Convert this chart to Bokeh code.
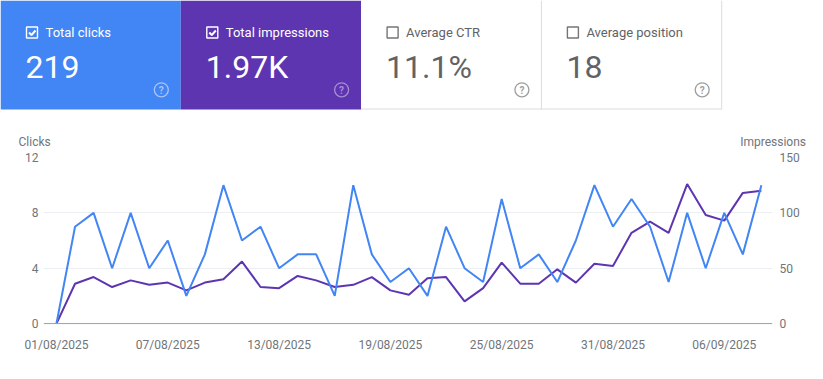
from bokeh.plotting import figure
from bokeh.models import Range1d, LinearAxis, FixedTicker, Span, ColumnDataSource
from bokeh.layouts import column
from bokeh.core.properties import value
from bokeh.embed import file_html
from bokeh.resources import INLINE

# ---------------- data ----------------
card_titles = ["Total clicks", "Total impressions", "Average CTR", "Average position"]
card_values = ["219", "1.97K", "11.1%", "18"]
card_checked = [True, True, False, False]
card_fills = ["#4285f4", "#5e35b1", "#ffffff", "#ffffff"]

dates = ["01/08/2025", "02/08/2025", "03/08/2025", "04/08/2025", "05/08/2025", "06/08/2025",
         "07/08/2025", "08/08/2025", "09/08/2025", "10/08/2025", "11/08/2025", "12/08/2025",
         "13/08/2025", "14/08/2025", "15/08/2025", "16/08/2025", "17/08/2025", "18/08/2025",
         "19/08/2025", "20/08/2025", "21/08/2025", "22/08/2025", "23/08/2025", "24/08/2025",
         "25/08/2025", "26/08/2025", "27/08/2025", "28/08/2025", "29/08/2025", "30/08/2025",
         "31/08/2025", "01/09/2025", "02/09/2025", "03/09/2025", "04/09/2025", "05/09/2025",
         "06/09/2025", "07/09/2025", "08/09/2025"]
clicks = [0, 7, 8, 4, 8, 4, 6, 2, 5, 10, 6, 7, 4, 5, 5, 2, 10, 5, 3, 4,
          2, 7, 4, 3, 9, 4, 5, 3, 6, 10, 7, 9, 7, 3, 8, 4, 8, 5, 10]
impressions = [0, 36, 42, 33, 39, 35, 37, 30, 37, 40, 56, 33, 32, 43, 39, 33, 35, 42, 30, 26,
               41, 42, 20, 32, 55, 36, 36, 49, 37, 54, 52, 82, 92, 82, 126, 98, 93, 118, 120]
tick_days = [0, 6, 12, 18, 24, 30, 36]
clicks_ticks = [0, 4, 8, 12]
impr_ticks = [0, 50, 100, 150]
axis_titles = ["Clicks", "Impressions"]

FONT = value("Roboto")
BLUE = "#4285f4"
PURPLE = "#5e35b1"
TXT = "#70757a"
W = 823

# ---------------- header: cards + axis titles ----------------
p_top = figure(width=W, height=150, x_range=Range1d(0, W), y_range=Range1d(150, 0),
               output_backend="svg", toolbar_location=None, min_border=0,
               x_axis_location=None, y_axis_location=None, outline_line_color=None,
               frame_align=False)
p_top.grid.visible = False

card_w = 180
lefts = [i * 180.3 for i in range(len(card_titles))]
rights = [l + card_w + 0.3 for l in lefts]
p_top.quad(left=lefts, right=rights, top=0, bottom=109, fill_color=card_fills, line_color=None)

white_idx = [i for i, c in enumerate(card_checked) if not c]
p_top.segment(x0=[lefts[white_idx[0]]], y0=[108.5], x1=[rights[white_idx[-1]]], y1=[108.5],
              line_color="#dadce0", line_width=1)
p_top.segment(x0=[rights[i] for i in white_idx], y0=[0] * len(white_idx),
              x1=[rights[i] for i in white_idx], y1=[109] * len(white_idx),
              line_color="#dadce0", line_width=1)

fg = ["#ffffff" if c else "#5f6368" for c in card_checked]
box_col = ["#ffffff" if c else "#757575" for c in card_checked]
help_col = ["#a9c4f9", "#a58ed6", "#9e9e9e", "#9e9e9e"]

p_top.rect(x=[l + 31.5 for l in lefts], y=[32] * 4, width=11, height=11,
           fill_color=None, line_color=box_col, line_width=1.4)
for i, c in enumerate(card_checked):
    if c:
        l = lefts[i]
        p_top.line(x=[l + 28.5, l + 31, l + 35], y=[32, 34.5, 30], line_color="#ffffff",
                   line_width=2)

src = ColumnDataSource(dict(
    tx=[l + 45 for l in lefts], vx=[l + 25 for l in lefts], hx=[l + 160.8 for l in lefts],
    title=card_titles, val=card_values, fg=fg, help=help_col, q=["?"] * 4))
p_top.text(x="tx", y=32, text="title", text_color="fg", text_font=FONT,
           text_font_size=value("13px"), text_baseline="middle", source=src)
p_top.text(x="vx", y=66, text="val", text_color="fg", text_font=FONT,
           text_font_size=value("32px"), text_baseline="middle", source=src)
p_top.scatter(x="hx", y=89.3, size=14, marker="circle", fill_color=None, line_color="help",
              line_width=1.3, source=src)
p_top.text(x="hx", y=89.5, text="q", text_color="help", text_font=FONT,
           text_font_size=value("10px"), text_font_style="bold", text_align="center",
           text_baseline="middle", source=src)

p_top.text(x=[18], y=[141], text=[axis_titles[0]], text_color=TXT, text_font=FONT,
           text_font_size=value("12px"), text_baseline="middle", text_align="left")
p_top.text(x=[805.5], y=[141], text=[axis_titles[1]], text_color=TXT, text_font=FONT,
           text_font_size=value("12px"), text_baseline="middle", text_align="right")

# ---------------- chart ----------------
days = list(range(len(dates)))
p = figure(width=W, height=229, x_range=Range1d(-0.7, 38.6), y_range=Range1d(-0.14, 12),
           output_backend="svg", toolbar_location=None,
           min_border_left=43, min_border_right=51, min_border_top=7, min_border_bottom=54,
           outline_line_color=None, frame_align=False)
p.extra_y_ranges = {"imp": Range1d(-1.75, 150)}

p.xgrid.visible = False
p.ygrid.ticker = FixedTicker(ticks=clicks_ticks[1:])
p.ygrid.grid_line_color = "#eceff1"
p.ygrid.grid_line_width = 1

ya = p.yaxis[0]
ya.ticker = FixedTicker(ticks=clicks_ticks)
ya.axis_line_color = None
ya.major_tick_line_color = None
ya.minor_tick_line_color = None
ya.major_tick_out = 0
ya.major_label_standoff = 5
ya.major_label_text_font = "Roboto"
ya.major_label_text_font_size = "12px"
ya.major_label_text_color = TXT

ra = LinearAxis(y_range_name="imp", ticker=FixedTicker(ticks=impr_ticks))
ra.axis_line_color = None
ra.major_tick_line_color = None
ra.minor_tick_line_color = None
ra.major_tick_out = 0
ra.major_label_standoff = 7
ra.major_label_text_font = "Roboto"
ra.major_label_text_font_size = "12px"
ra.major_label_text_color = TXT
p.add_layout(ra, "right")

xa = p.xaxis[0]
xa.ticker = FixedTicker(ticks=tick_days)
xa.major_label_overrides = {d: dates[d] for d in tick_days}
xa.axis_line_color = None
xa.major_tick_line_color = None
xa.minor_tick_line_color = None
xa.major_tick_out = 0
xa.major_label_standoff = 12
xa.major_label_text_font = "Roboto"
xa.major_label_text_font_size = "12px"
xa.major_label_text_color = TXT

p.add_layout(Span(location=0, dimension="width", line_color="#9aa0a6", line_width=1))

p.line(days, impressions, y_range_name="imp", line_color=PURPLE, line_width=2)
p.line(days, clicks, line_color=BLUE, line_width=2)

layout = column(p_top, p, spacing=0)
open("out.html", "w").write(file_html(layout, INLINE))
